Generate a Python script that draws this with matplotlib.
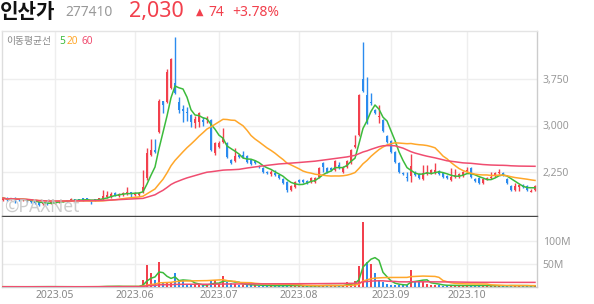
import matplotlib
matplotlib.use("Agg")
import matplotlib.pyplot as plt
import numpy as np
import pandas as pd

# daily candles, 2023-04-13 .. 2023-10-27 (trading-day index)
opens = [1808, 1840, 1824, 1840, 1824, 1808, 1824, 1808, 1800, 1776,
         1744, 1792, 1760, 1760, 1776, 1776, 1808, 1808, 1824, 1824,
         1840, 1840, 1808, 1824, 1824, 1824, 1856, 1856, 1920, 1872,
         1888, 1904, 1936, 1888, 1888, 1936, 2160, 2528, 2608, 2896,
         3392, 3376, 3600, 3680, 3376, 3264, 3216, 3168, 3040, 3056,
         3088, 3088, 3088, 2560, 2656, 2736, 2720, 2448, 2432, 2528,
         2528, 2512, 2448, 2432, 2352, 2320, 2256, 2224, 2240, 2208,
         2144, 2096, 1968, 2016, 2128, 2128, 2112, 2096, 2096, 2176,
         2400, 2320, 2320, 2288, 2368, 2256, 2336, 2400, 2656, 2848,
         3744, 3488, 3376, 3248, 3136, 3088, 2832, 2752, 2576, 2400,
         2240, 2176, 2192, 2256, 2224, 2144, 2224, 2240, 2240, 2272,
         2240, 2192, 2128, 2176, 2176, 2192, 2256, 2320, 2144, 2160,
         2080, 2144, 2160, 2192, 2240, 2240, 2144, 2032, 1968, 2016,
         2048, 2032, 1940, 1970]
highs = [1848, 1850, 1848, 1856, 1832, 1832, 1832, 1816, 1808, 1784,
         1784, 1800, 1784, 1800, 1800, 1800, 1816, 1840, 1832, 1832,
         1848, 1848, 1816, 1832, 1848, 1968, 1952, 1936, 1936, 1920,
         1936, 2016, 1944, 1936, 1936, 2288, 2640, 2784, 2784, 3420,
         3400, 3904, 4080, 4416, 3456, 3328, 3296, 3184, 3152, 3216,
         3136, 3152, 3100, 2736, 2752, 2960, 2736, 2464, 2640, 2544,
         2592, 2528, 2464, 2448, 2368, 2336, 2272, 2288, 2288, 2224,
         2160, 2112, 2048, 2112, 2144, 2144, 2128, 2176, 2176, 2336,
         2416, 2336, 2336, 2448, 2416, 2352, 2448, 2624, 2848, 3500,
         4336, 3776, 3520, 3264, 3328, 3100, 2848, 2768, 2592, 2416,
         2256, 2256, 2544, 2272, 2240, 2368, 2368, 2304, 2400, 2288,
         2256, 2208, 2320, 2304, 2240, 2272, 2336, 2336, 2160, 2176,
         2160, 2176, 2256, 2256, 2304, 2256, 2160, 2048, 2080, 2064,
         2064, 2048, 1990, 2045]
lows = [1800, 1800, 1816, 1760, 1800, 1800, 1784, 1768, 1744, 1712,
        1736, 1736, 1752, 1752, 1768, 1776, 1784, 1800, 1800, 1800,
        1800, 1808, 1744, 1800, 1816, 1816, 1848, 1848, 1880, 1864,
        1880, 1896, 1856, 1880, 1880, 1928, 2128, 2512, 2560, 2880,
        3200, 3360, 3580, 3500, 3200, 3056, 3072, 2976, 2960, 2976,
        2992, 3040, 2590, 2528, 2640, 2720, 2480, 2384, 2416, 2480,
        2480, 2400, 2368, 2384, 2320, 2240, 2224, 2192, 2192, 2144,
        2064, 1936, 1952, 2000, 2080, 2080, 2064, 2080, 2080, 2160,
        2256, 2240, 2272, 2272, 2304, 2240, 2320, 2384, 2640, 2830,
        3530, 3020, 3330, 3184, 3040, 2896, 2720, 2560, 2400, 2240,
        2208, 2112, 2096, 2192, 2144, 2128, 2208, 2224, 2224, 2208,
        2160, 2144, 2112, 2160, 2160, 2176, 2240, 2160, 2096, 2064,
        2064, 2128, 2144, 2176, 2224, 2192, 2064, 1952, 1952, 1952,
        2000, 1952, 1930, 1960]
closes = [1840, 1808, 1840, 1808, 1808, 1824, 1792, 1776, 1760, 1728,
          1776, 1744, 1776, 1792, 1792, 1792, 1792, 1824, 1808, 1808,
          1808, 1816, 1792, 1808, 1840, 1872, 1888, 1904, 1888, 1904,
          1920, 1936, 1904, 1920, 1920, 2016, 2560, 2608, 2576, 3392,
          3328, 3856, 4064, 3520, 3248, 3232, 3200, 3056, 3104, 3200,
          3056, 3120, 2608, 2720, 2720, 2816, 2496, 2400, 2512, 2496,
          2496, 2416, 2384, 2400, 2336, 2256, 2240, 2256, 2208, 2160,
          2080, 1968, 2032, 2096, 2096, 2096, 2080, 2160, 2160, 2320,
          2336, 2256, 2288, 2432, 2320, 2336, 2432, 2608, 2688, 3488,
          3552, 3040, 3360, 3200, 3152, 2912, 2736, 2576, 2416, 2256,
          2224, 2160, 2352, 2208, 2160, 2240, 2256, 2288, 2288, 2224,
          2176, 2160, 2176, 2208, 2224, 2256, 2288, 2176, 2112, 2080,
          2144, 2160, 2176, 2240, 2256, 2208, 2080, 1968, 2032, 2048,
          2016, 1968, 1956, 2030]
# volume, millions of shares
volumes = [0.6, 0.5, 0.4, 0.8, 0.5, 0.4, 0.6, 0.7, 0.9, 1.2, 0.6, 0.7, 0.5,
           0.5, 0.4, 0.4, 0.5, 0.6, 0.4, 0.4, 0.5, 0.4, 0.8, 0.5, 0.6,
           2.5, 1.8, 1.6, 1.2, 1.0, 1.1, 2.0, 1.3, 0.9, 1.0,
           15, 48, 31, 15, 55, 8, 8, 8, 31, 15, 15,
           5, 4, 5, 5, 4, 4, 13, 15, 6, 24, 10, 8, 6, 5,
           4, 5, 4, 4, 3, 3, 3, 2.5, 3, 3, 3, 4, 3, 3, 2.5, 2, 2, 2.5, 3, 4,
           4, 3, 2.5, 4, 3, 3,
           11, 8, 13, 45, 141, 55, 50, 30, 15, 10, 7, 5, 5, 4, 4, 4, 37, 11,
           11, 12,
           7, 5, 4, 4, 3, 3, 4, 3, 3, 3, 3, 5, 3, 3, 3, 2.5, 2.5, 3, 3, 2.5,
           3, 4, 3, 2.5, 2.5, 3, 2.5, 3]

month_pos = [13, 33, 54, 74, 97, 116]
month_labels = ["2023.05", "2023.06", "2023.07", "2023.08", "2023.09", "2023.10"]
price_ticks = [2250, 3000, 3750]
vol_ticks = [50, 100]
ma_windows = [5, 20, 60]

RED, BLUE = "#f2404d", "#2b8bef"
MA_COLORS = ["#3cbb3c", "#ffa72a", "#f04d70"]
KR = ["Noto Sans CJK KR", "DejaVu Sans"]

plt.rcParams["font.family"] = ["Noto Sans", "DejaVu Sans"]

W, H = 594, 304
fig = plt.figure(figsize=(W / 100, H / 100), dpi=100)
axp = fig.add_axes([2 / W, 1 - 216 / H, 535 / W, 185 / H])
axv = fig.add_axes([2 / W, 1 - 287 / H, 535 / W, 70 / H], sharex=axp)

o, h, l, c = map(np.array, (opens, highs, lows, closes))
vol = np.array(volumes)
x = np.arange(len(c))
up = c >= o
col = np.where(up, RED, BLUE)

axp.vlines(x, l, h, colors=col, lw=1, zorder=3)
axp.bar(x, np.maximum(np.abs(c - o), 10), bottom=np.minimum(o, c), width=0.7,
        color=col, lw=0, zorder=3)
cs = pd.Series(c, dtype=float)
for w, mc in zip(ma_windows, MA_COLORS):
    axp.plot(x, cs.rolling(w, min_periods=1).mean(), color=mc, lw=1.1, zorder=4)

prev = np.r_[c[0], c[:-1]]
vcol = np.where(c >= prev, RED, BLUE)
axv.bar(x, vol, width=0.7, color=vcol, lw=0, zorder=3)
vs = pd.Series(vol)
for w, mc in zip(ma_windows, MA_COLORS):
    axv.plot(x, vs.rolling(w, min_periods=1).mean(), color=mc, lw=1.1, zorder=4)

axp.set_xlim(-0.25, 133.5)
axp.set_ylim(1552, 4512)
axv.set_ylim(0, 153)

for ax in (axp, axv):
    ax.set_xticks(month_pos)
    ax.grid(True, color="#eeeeee", lw=1, zorder=0)
    ax.yaxis.tick_right()
    ax.tick_params(length=0, colors="#999999", labelsize=7.5, pad=4)
    for s in ax.spines.values():
        s.set_color("#cccccc")
        s.set_linewidth(1)
    ax.spines["left"].set_color("#dddddd")
axp.spines["top"].set_color("#e4e4e4")
axp.spines["bottom"].set_color("#444444")
axv.spines["top"].set_visible(False)
axv.spines["bottom"].set_color("#cccccc")
axp.tick_params(axis="x", labelbottom=False)
axp.set_yticks(price_ticks)
axp.set_yticklabels([f"{t:,}" for t in price_ticks])
axv.set_yticks(vol_ticks)
axv.set_yticklabels([f"{t}M" for t in vol_ticks])
axv.set_xticklabels(month_labels)
axv.tick_params(axis="x", pad=2, labelsize=7.5, colors="#888888")

# header
def ft(px, py, s, **kw):
    fig.text(px / W, 1 - py / H, s, va="center", **kw)

ft(0, 11, "인산가", fontsize=14.5, fontweight="bold", color="#111111", family=KR)
ft(65, 12, "277410", fontsize=10, color="#999999")
ft(129, 11, "2,030", fontsize=15.5, color=RED)
ft(196, 12, "▲", fontsize=7, color=RED, family=["DejaVu Sans"])
ft(208, 12, "74", fontsize=10, color=RED)
ft(232, 12, "+3.78%", fontsize=10, color=RED)

ft(6, 41, "이동평균선", fontsize=7, color="#888888", family=KR)
ft(59, 41, "5", fontsize=7.3, color=MA_COLORS[0], fontweight="bold")
ft(67, 41, "20", fontsize=7.3, color=MA_COLORS[1], fontweight="bold")
ft(82, 41, "60", fontsize=7.3, color=MA_COLORS[2], fontweight="bold")

ft(4, 207, "©PAXNet", fontsize=12.5, fontweight="bold", color="#c4c4c4", alpha=0.85)

fig.savefig("out.png", dpi=100)
